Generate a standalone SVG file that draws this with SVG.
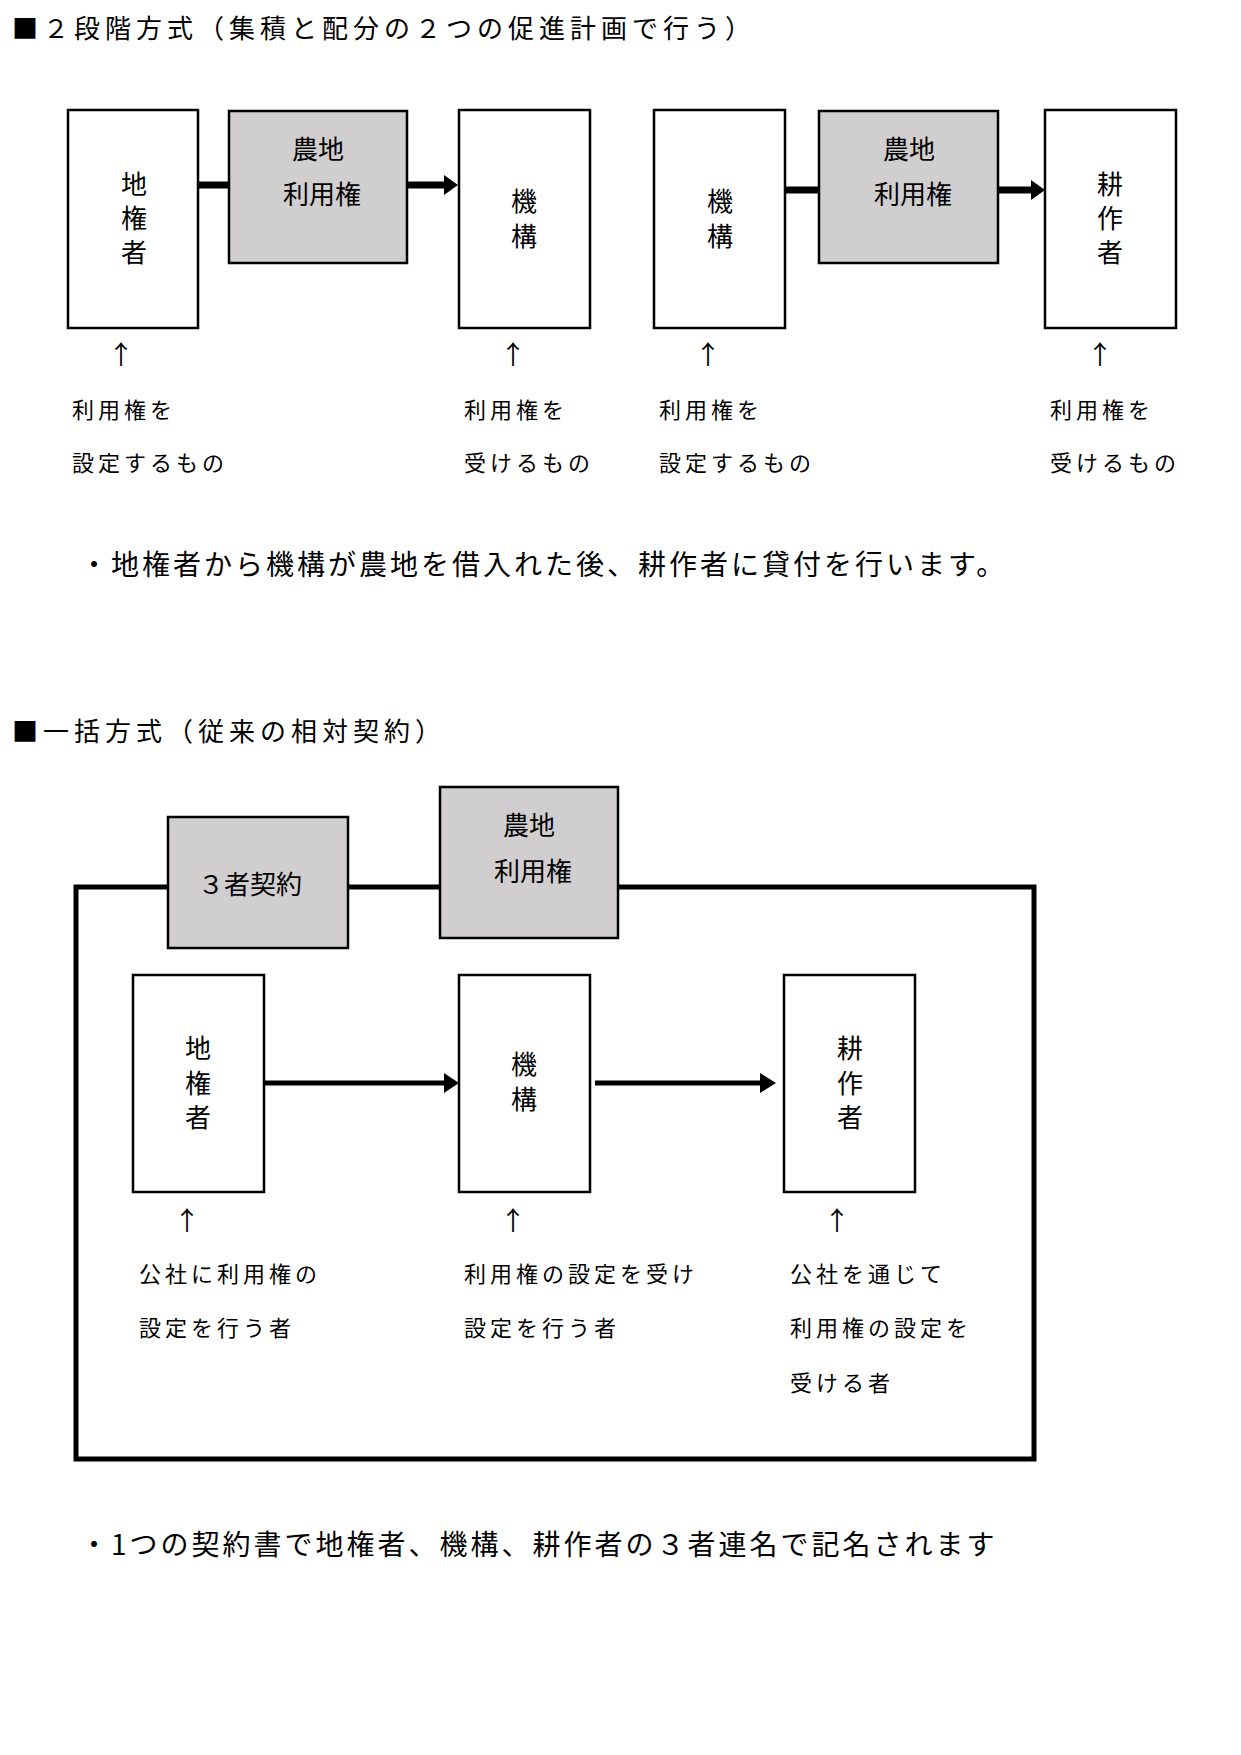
<svg xmlns="http://www.w3.org/2000/svg" width="1241" height="1755" viewBox="0 0 1241 1755">
<style>
text{font-family:"Noto Sans CJK JP","Noto Sans",sans-serif;fill:#000}
.t{font-size:26px;letter-spacing:5px}.b{font-size:26px;text-anchor:middle}.l{font-size:22px;letter-spacing:4px}.u{font-size:26px;text-anchor:middle}
.s{font-size:28px;letter-spacing:3px}
.w{fill:#fff;stroke:#000;stroke-width:2.5}.g{fill:#d0cece;stroke:#000;stroke-width:2.5}
.c{stroke:#000;fill:none}
</style>
<rect width="1241" height="1755" fill="#fff"/>
<text class="t" x="12" y="38">■２段階方式（集積と配分の２つの促進計画で行う）</text>
<g id="connectors1">
<line class="c" x1="198" y1="185" x2="229" y2="185" stroke-width="7"/>
<line class="c" x1="407" y1="185" x2="446" y2="185" stroke-width="7"/>
<polygon points="444,175 458,185 444,195"/>
<line class="c" x1="785" y1="190" x2="819" y2="190" stroke-width="7"/>
<line class="c" x1="998" y1="190" x2="1033" y2="190" stroke-width="7"/>
<polygon points="1031,180 1045,190 1031,200"/>
</g>
<g id="n1"><rect class="w" x="68" y="110" width="130" height="218"/><text class="b" x="134" y="194">地</text><text class="b" x="134" y="228">権</text><text class="b" x="134" y="262">者</text></g>
<g id="n2"><rect class="g" x="229" y="111" width="178" height="152"/><text class="b" x="318" y="159">農地</text><text class="b" x="322" y="204">利用権</text></g>
<g id="n3"><rect class="w" x="459" y="110" width="131" height="218"/><text class="b" x="524" y="211">機</text><text class="b" x="524" y="246">構</text></g>
<g id="n4"><rect class="w" x="654" y="110" width="131" height="218"/><text class="b" x="720" y="211">機</text><text class="b" x="720" y="246">構</text></g>
<g id="n5"><rect class="g" x="819" y="111" width="179" height="152"/><text class="b" x="909" y="159">農地</text><text class="b" x="913" y="204">利用権</text></g>
<g id="n6"><rect class="w" x="1045" y="110" width="131" height="218"/><text class="b" x="1110" y="194">耕</text><text class="b" x="1110" y="228">作</text><text class="b" x="1110" y="262">者</text></g>
<g id="labels1">
<text class="u" x="121" y="364">↑</text><text class="u" x="513" y="364">↑</text><text class="u" x="708" y="364">↑</text><text class="u" x="1100" y="364">↑</text>
<text class="l" x="72" y="418">利用権を</text><text class="l" x="72" y="471">設定するもの</text>
<text class="l" x="464" y="418">利用権を</text><text class="l" x="464" y="471">受けるもの</text>
<text class="l" x="659" y="418">利用権を</text><text class="l" x="659" y="471">設定するもの</text>
<text class="l" x="1050" y="418">利用権を</text><text class="l" x="1050" y="471">受けるもの</text>
</g>
<text class="s" x="80" y="575">・地権者から機構が農地を借入れた後、耕作者に貸付を行います。</text>
<text class="t" x="12" y="741">■一括方式（従来の相対契約）</text>
<rect x="76" y="887" width="958" height="572" fill="none" stroke="#000" stroke-width="5"/>
<g id="connectors2">
<line class="c" x1="264" y1="1083" x2="446" y2="1083" stroke-width="5"/>
<polygon points="444,1073 459,1083 444,1093"/>
<line class="c" x1="595" y1="1083" x2="762" y2="1083" stroke-width="5"/>
<polygon points="760,1073 776,1083 760,1093"/>
</g>
<g id="m1"><rect class="g" x="168" y="817" width="180" height="131"/><text class="b" x="250" y="894">３者契約</text></g>
<g id="m2"><rect class="g" x="440" y="787" width="178" height="151"/><text class="b" x="529" y="835">農地</text><text class="b" x="533" y="881">利用権</text></g>
<g id="m3"><rect class="w" x="133" y="975" width="131" height="217"/><text class="b" x="198" y="1058">地</text><text class="b" x="198" y="1093">権</text><text class="b" x="198" y="1127">者</text></g>
<g id="m4"><rect class="w" x="459" y="975" width="131" height="217"/><text class="b" x="524" y="1074">機</text><text class="b" x="524" y="1109">構</text></g>
<g id="m5"><rect class="w" x="784" y="975" width="131" height="217"/><text class="b" x="850" y="1058">耕</text><text class="b" x="850" y="1093">作</text><text class="b" x="850" y="1127">者</text></g>
<g id="labels2">
<text class="u" x="187" y="1230">↑</text><text class="u" x="513" y="1230">↑</text><text class="u" x="837" y="1230">↑</text>
<text class="l" x="139" y="1282">公社に利用権の</text><text class="l" x="139" y="1336">設定を行う者</text>
<text class="l" x="464" y="1282">利用権の設定を受け</text><text class="l" x="464" y="1336">設定を行う者</text>
<text class="l" x="790" y="1282">公社を通じて</text><text class="l" x="790" y="1336">利用権の設定を</text><text class="l" x="790" y="1391">受ける者</text>
</g>
<text class="s" x="80" y="1555">・1つの契約書で地権者、機構、耕作者の３者連名で記名されます</text>
</svg>
